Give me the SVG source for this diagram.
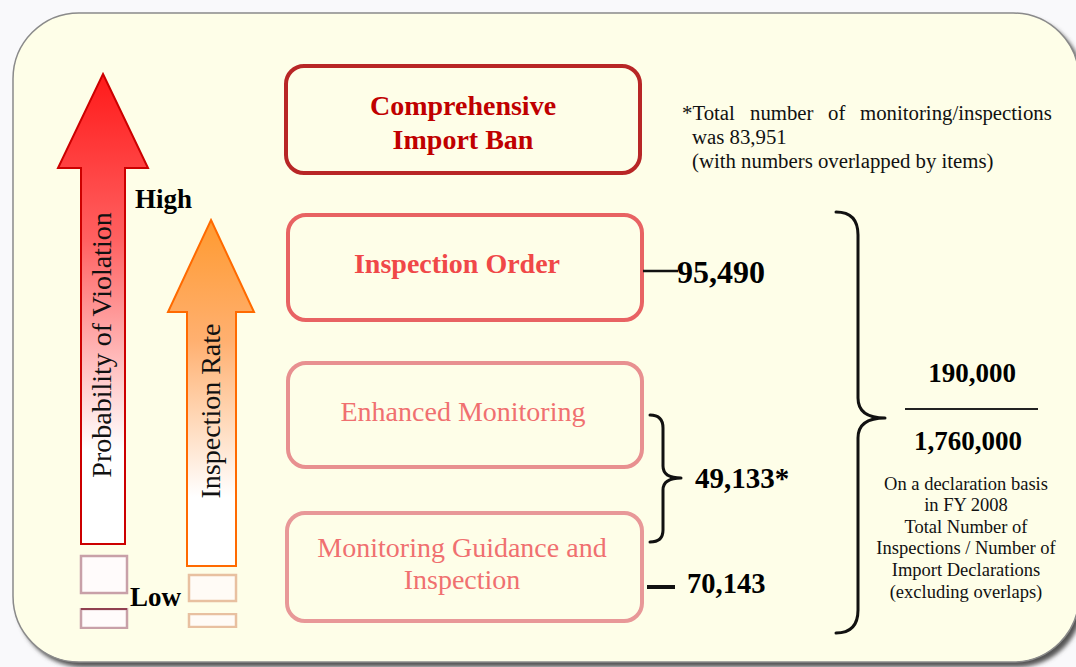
<svg xmlns="http://www.w3.org/2000/svg" width="1076" height="667" viewBox="0 0 1076 667">
  <defs>
    <linearGradient id="gradRed" x1="0" y1="0" x2="0" y2="1">
      <stop offset="0" stop-color="#FF1A1A"/>
      <stop offset="0.35" stop-color="#FF6060"/>
      <stop offset="0.8" stop-color="#FFFFFF"/>
      <stop offset="1" stop-color="#FFFFFF"/>
    </linearGradient>
    <linearGradient id="gradOrange" x1="0" y1="0" x2="0" y2="1">
      <stop offset="0" stop-color="#FF9A30"/>
      <stop offset="0.35" stop-color="#FFB070"/>
      <stop offset="0.8" stop-color="#FFFFFF"/>
      <stop offset="1" stop-color="#FFFFFF"/>
    </linearGradient>
    <filter id="soft" x="-5%" y="-5%" width="110%" height="110%">
      <feGaussianBlur stdDeviation="0.6"/>
    </filter>
    <filter id="shadow" x="-5%" y="-5%" width="110%" height="110%">
      <feGaussianBlur stdDeviation="2"/>
    </filter>
  </defs>
  <style>
    .serif { font-family: "Liberation Serif", "Times New Roman", serif; }
    .label { font-family: "Liberation Serif", serif; font-size: 28px; text-anchor: middle; }
    .num { font-family: "Liberation Serif", serif; font-weight: bold; fill: #000; }
    .frac { font-family: "Liberation Serif", serif; font-weight: bold; font-size: 27px; fill: #000; text-anchor: middle; }
    .desc { font-family: "Liberation Serif", serif; font-size: 18.5px; fill: #111; text-anchor: middle; }
    .note { font-family: "Liberation Serif", serif; font-size: 20.8px; fill: #111; }
    .lvl { font-family: "Liberation Serif", serif; font-weight: bold; font-size: 27px; fill: #000; }
    .box { fill: #FEFEE8; stroke-width: 4; }
    .brace { fill: none; stroke: #111; stroke-width: 3; stroke-linecap: round; stroke-linejoin: round; }
    .tick { stroke: #111; stroke-width: 2.5; }
  </style>

  <!-- page -->
  <rect width="1076" height="667" fill="#F9F9FB"/>

  <!-- panel with drop shadow -->
  <rect x="17" y="17" width="1066" height="650" rx="66" fill="#555" filter="url(#shadow)"/>
  <rect x="13" y="13" width="1066" height="649" rx="66" fill="#FEFEE8" stroke="#8A8A8A" stroke-width="1.5"/>

  <!-- left: probability of violation arrow -->
  <g id="arrow-violation">
    <path d="M103,74 L148,168 L125,168 L125,544 L81,544 L81,168 L58,168 Z" fill="url(#gradRed)" stroke="#CC0000" stroke-width="2" stroke-linejoin="miter"/>
    <text class="serif" font-size="28" fill="#111" text-anchor="middle" transform="translate(111,345) rotate(-90)">Probability of Violation</text>
    <rect x="81" y="556" width="46" height="37" fill="#FFFBFB" stroke="#C8A0A8" stroke-width="2.5" filter="url(#soft)"/>
    <rect x="81" y="609" width="46" height="19" fill="#FFFBFB" stroke="#C8A0A8" stroke-width="2.5" filter="url(#soft)"/>
    <line x1="81" y1="609" x2="127" y2="609" stroke="#904050" stroke-width="2"/>
  </g>

  <!-- left: inspection rate arrow -->
  <g id="arrow-rate">
    <path d="M211,220 L254,312 L236,312 L236,566 L187,566 L187,312 L168,312 Z" fill="url(#gradOrange)" stroke="#FF6A00" stroke-width="2"/>
    <text class="serif" font-size="28" fill="#111" text-anchor="middle" transform="translate(220,411) rotate(-90)">Inspection Rate</text>
    <rect x="189" y="575" width="47" height="26" fill="#FFFBF6" stroke="#E8C0A0" stroke-width="2.5" filter="url(#soft)"/>
    <rect x="189" y="614" width="47" height="13" fill="#FFFBF6" stroke="#E8C0A0" stroke-width="2.5" filter="url(#soft)"/>
  </g>

  <g id="level-labels">
    <text class="lvl" x="135" y="208">High</text>
    <text class="lvl" x="130" y="606">Low</text>
  </g>

  <!-- measure boxes -->
  <g id="box-ban">
    <rect class="box" x="286" y="66" width="354" height="107" rx="18" stroke="#B82828" filter="url(#soft)"/>
    <text class="label" font-weight="bold" fill="#C00000" x="463" y="115">Comprehensive</text>
    <text class="label" font-weight="bold" fill="#C00000" x="463" y="149">Import Ban</text>
  </g>

  <g id="box-order">
    <rect class="box" x="288" y="215" width="354" height="105" rx="18" stroke="#E86464" filter="url(#soft)"/>
    <text class="label" font-weight="bold" fill="#F04848" x="457" y="273">Inspection Order</text>
  </g>

  <g id="box-enhanced">
    <rect class="box" x="288" y="363" width="354" height="104" rx="18" stroke="#E89090" filter="url(#soft)"/>
    <text class="label" fill="#F07070" x="463" y="421">Enhanced Monitoring</text>
  </g>

  <g id="box-guidance">
    <rect class="box" x="287" y="513" width="355" height="108" rx="18" stroke="#E89898" filter="url(#soft)"/>
    <text class="label" fill="#F07070" x="462" y="557">Monitoring Guidance and</text>
    <text class="label" fill="#F07070" x="462" y="589">Inspection</text>
  </g>

  <!-- connectors and braces -->
  <g id="connectors">
    <line class="tick" x1="643" y1="271" x2="678" y2="271"/>
    <line x1="647" y1="587" x2="675" y2="587" stroke="#111" stroke-width="4"/>
    <path class="brace" d="M650,415 Q663,415 663,428 L663,466 Q663,478 681,478 Q663,478 663,490 L663,530 Q663,542 650,542"/>
    <path class="brace" d="M836,212 Q858,212 858,235 L858,398 Q858,418 885,418 Q858,418 858,438 L858,610 Q858,633 836,633"/>
    <line x1="905" y1="409" x2="1038" y2="409" stroke="#222" stroke-width="2"/>
  </g>

  <g id="counts">
    <text class="num" font-size="32" x="677" y="283">95,490</text>
    <text class="num" font-size="29" x="695" y="488">49,133*</text>
    <text class="num" font-size="28.5" x="687" y="593">70,143</text>
  </g>

  <g id="ratio">
    <text class="frac" x="972" y="382">190,000</text>
    <text class="frac" x="968" y="450">1,760,000</text>
    <text class="desc" x="966" y="490">On a declaration basis</text>
    <text class="desc" x="966" y="511">in FY 2008</text>
    <text class="desc" x="966" y="533">Total Number of</text>
    <text class="desc" x="966" y="554">Inspections / Number of</text>
    <text class="desc" x="966" y="576">Import Declarations</text>
    <text class="desc" x="966" y="598">(excluding overlaps)</text>
  </g>

  <g id="footnote">
    <text class="note" y="120"><tspan x="682">*Total</tspan><tspan x="750">number</tspan><tspan x="828">of</tspan><tspan x="860">monitoring/inspections</tspan></text>
    <text class="note" x="692" y="144">was 83,951</text>
    <text class="note" x="692" y="168">(with numbers overlapped by items)</text>
  </g>
</svg>
